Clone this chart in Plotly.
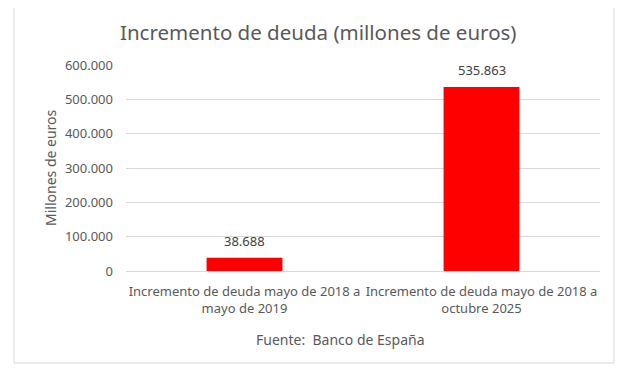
import plotly.graph_objects as go

categories = ["Incremento de deuda mayo de 2018 a<br>mayo de 2019",
              "Incremento de deuda mayo de 2018 a<br>octubre 2025"]
values = [38688, 535863]
tick_vals = [0, 100000, 200000, 300000, 400000, 500000, 600000]

OFF = 8  # page body margin
W, H = 639 - OFF, 379 - OFF
L, T = 126 - OFF, 65 - OFF
pw, ph = 474, 206
R, B = W - L - pw, H - T - ph

def px_x(x):
    return (x - OFF - L) / pw

def px_y(y):
    return (H - B - (y - OFF)) / ph

FONT = "Noto Sans"
GREY = "#595959"

fig = go.Figure(go.Bar(
    x=categories, y=values,
    marker=dict(color="#ff0000", line=dict(width=0)),
    width=0.32,
))

label_annotations = [
    dict(x=c, y=v, xref="x", yref="y", text=f"{v:,}".replace(",", "."),
         showarrow=False, yanchor="bottom", yshift=6,
         font=dict(family=FONT, size=13, color="#404040"))
    for c, v in zip(categories, values)
]

fig.update_layout(
    width=W, height=H,
    margin=dict(l=L, r=R, t=T, b=B),
    paper_bgcolor="white", plot_bgcolor="white",
    separators=",.",
    showlegend=False,
    font=dict(family=FONT, size=13, color=GREY),
    xaxis=dict(showgrid=False, showline=False, ticks="", automargin=False,
               tickangle=0, ticklabelstandoff=11, tickfont=dict(size=13, color=GREY)),
    yaxis=dict(range=[0, 600000], tickvals=tick_vals, tickformat=",.0f",
               showgrid=True, gridcolor="#d9d9d9", gridwidth=1,
               zeroline=True, zerolinecolor="#d9d9d9", zerolinewidth=1,
               showline=False, ticks="", automargin=False, ticklabelstandoff=12,
               tickfont=dict(size=13, color=GREY)),
    shapes=[dict(type="rect", xref="paper", yref="paper",
                 x0=px_x(14), x1=px_x(614), y0=px_y(363), y1=px_y(4),
                 line=dict(color="#d9d9d9", width=1), layer="below")],
    annotations=label_annotations + [
        dict(text="Incremento de deuda (millones de euros)", xref="paper", yref="paper",
             x=px_x(318), y=px_y(32), showarrow=False, xanchor="center", yanchor="middle",
             font=dict(size=20.5, color=GREY)),
        dict(text="Millones de euros", xref="paper", yref="paper",
             x=px_x(50), y=px_y(168), showarrow=False, textangle=-90,
             xanchor="center", yanchor="middle", font=dict(size=14, color=GREY)),
        dict(text="Fuente:  Banco de España", xref="paper", yref="paper",
             x=px_x(340), y=px_y(339), showarrow=False, xanchor="center", yanchor="middle",
             font=dict(size=14, color=GREY)),
    ],
)

fig.write_html("out.html")
